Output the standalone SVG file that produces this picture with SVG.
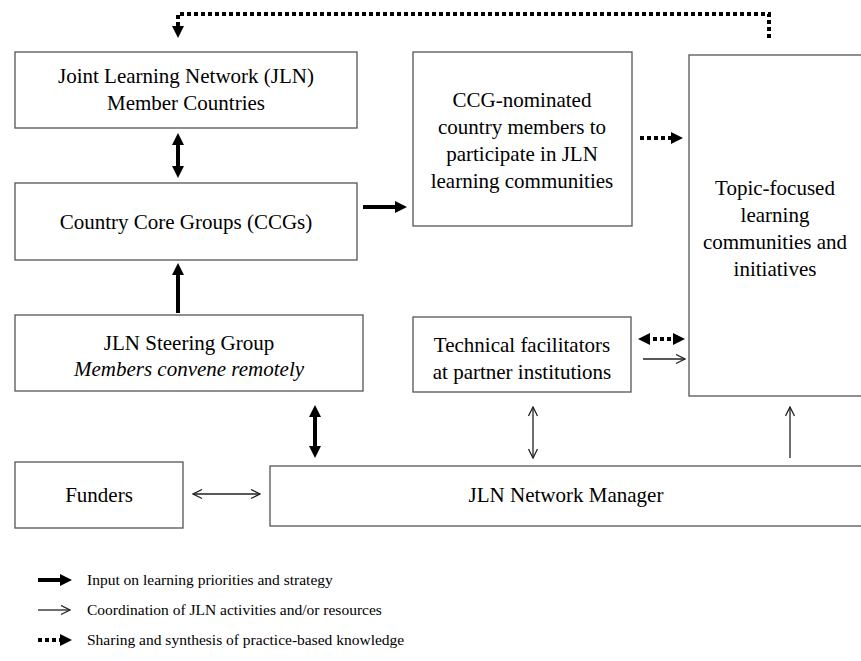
<svg xmlns="http://www.w3.org/2000/svg" width="861" height="661" viewBox="0 0 861 661">
<style>
.box{fill:#fff;stroke:#555;stroke-width:1.3}
text{font-family:"Liberation Serif","Times New Roman",serif;fill:#000;text-anchor:middle}
.t{font-size:21px}
.lg{font-size:15.5px;text-anchor:start}
.thick{stroke:#000;stroke-width:4;fill:none}
.thin{stroke:#222;stroke-width:1.3;fill:none}
.dot{stroke:#000;stroke-width:4;fill:none;stroke-dasharray:4 3}
</style>
<defs>
<marker id="fh" viewBox="0 0 12 12" refX="4" refY="6" markerWidth="12" markerHeight="12" markerUnits="userSpaceOnUse" orient="auto-start-reverse"><path d="M0,0 L12,6 L0,12 z" fill="#000"/></marker>
<marker id="oh" viewBox="0 0 11 11" refX="10" refY="5.5" markerWidth="11" markerHeight="11" markerUnits="userSpaceOnUse" orient="auto-start-reverse"><path d="M1,1 L10,5.5 L1,10" fill="none" stroke="#222" stroke-width="1.3"/></marker>
</defs>
<rect width="861" height="661" fill="#fff"/>
<g id="members"><rect class="box" x="15" y="52" width="342" height="76"/><text class="t" x="186" y="83">Joint Learning Network (JLN)</text><text class="t" x="186" y="110">Member Countries</text></g>
<g id="ccgs"><rect class="box" x="15" y="183" width="342" height="77"/><text class="t" x="186" y="229">Country Core Groups (CCGs)</text></g>
<g id="steering"><rect class="box" x="15" y="315" width="348" height="76"/><text class="t" x="189" y="350">JLN Steering Group</text><text class="t" x="189" y="376" font-style="italic">Members convene remotely</text></g>
<g id="funders"><rect class="box" x="15" y="462" width="168" height="66"/><text class="t" x="99" y="502">Funders</text></g>
<g id="manager"><rect class="box" x="270" y="466" width="600" height="60"/><text class="t" x="566" y="502">JLN Network Manager</text></g>
<g id="nominated"><rect class="box" x="413" y="52" width="219" height="174"/><text class="t" x="522" y="107">CCG-nominated</text><text class="t" x="522" y="134">country members to</text><text class="t" x="522" y="161">participate in JLN</text><text class="t" x="522" y="188">learning communities</text></g>
<g id="facilitators"><rect class="box" x="413" y="317" width="218" height="75"/><text class="t" x="522" y="352">Technical facilitators</text><text class="t" x="522" y="379">at partner institutions</text></g>
<g id="topic"><rect class="box" x="689" y="55" width="180" height="341"/><text class="t" x="775" y="195">Topic-focused</text><text class="t" x="775" y="222">learning</text><text class="t" x="775" y="249">communities and</text><text class="t" x="775" y="276">initiatives</text></g>
<g id="connectors">
<polyline class="dot" points="769,38 769,14 178,14 178,30" marker-end="url(#fh)"/>
<line class="thick" x1="178" y1="141" x2="178" y2="170" marker-start="url(#fh)" marker-end="url(#fh)"/>
<line class="thick" x1="363" y1="207" x2="399" y2="207" marker-end="url(#fh)"/>
<line class="thick" x1="178" y1="313" x2="178" y2="271" marker-end="url(#fh)"/>
<line class="dot" x1="640" y1="138" x2="675" y2="138" marker-end="url(#fh)"/>
<line class="dot" x1="646" y1="339" x2="677" y2="339" marker-start="url(#fh)" marker-end="url(#fh)"/>
<line class="thin" x1="643" y1="359" x2="685" y2="359" marker-end="url(#oh)"/>
<line class="thick" x1="315" y1="413" x2="315" y2="450" marker-start="url(#fh)" marker-end="url(#fh)"/>
<line class="thin" x1="533" y1="407" x2="533" y2="458" marker-start="url(#oh)" marker-end="url(#oh)"/>
<line class="thin" x1="790" y1="458" x2="790" y2="407" marker-end="url(#oh)"/>
<line class="thin" x1="193" y1="494" x2="260" y2="494" marker-start="url(#oh)" marker-end="url(#oh)"/>
</g>
<g id="legend">
<line class="thick" x1="38" y1="580" x2="64" y2="580" marker-end="url(#fh)"/>
<text class="lg" x="87" y="585">Input on learning priorities and strategy</text>
<line class="thin" x1="38" y1="610" x2="70" y2="610" marker-end="url(#oh)"/>
<text class="lg" x="87" y="615">Coordination of JLN activities and/or resources</text>
<line class="dot" x1="38" y1="640" x2="64" y2="640" marker-end="url(#fh)"/>
<text class="lg" x="87" y="645">Sharing and synthesis of practice-based knowledge</text>
</g>
</svg>
